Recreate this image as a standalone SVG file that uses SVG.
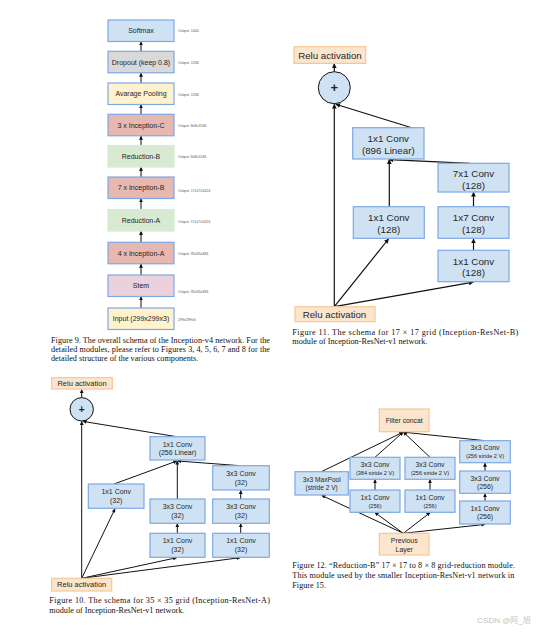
<svg xmlns="http://www.w3.org/2000/svg" width="538" height="635" viewBox="0 0 538 635">
<style>
.bg{fill:#ffffff}
.b{fill:#cfe2f3;stroke:#7ea8e4;stroke-width:1.2}
.grey{fill:#d9d9d9;stroke:#7ea8e4;stroke-width:1.2}
.yel{fill:#fff2cc;stroke:#7ea8e4;stroke-width:1.2}
.pink{fill:#e6b8af;stroke:#7ea8e4;stroke-width:1.2}
.green{fill:#d9ead3;stroke:#d9ead3;stroke-width:1.2}
.stem{fill:#ead1dc;stroke:#7ea8e4;stroke-width:1.2}
.relu{fill:#fce5cd;stroke:#f3c79a;stroke-width:1.2}
.circ{fill:#cfe2f3;stroke:#111;stroke-width:1}
.t{font-family:"Liberation Sans",Arial,sans-serif;fill:#262626;text-anchor:middle}
.o{font-family:"Liberation Sans",Arial,sans-serif;fill:#555;font-size:3.6px}
.cap{font-family:"Liberation Serif","Times New Roman",serif;fill:#111;font-size:8.2px}
.e line{stroke:#111;stroke-width:1;marker-end:url(#ah)}
.e2 line{stroke:#111;stroke-width:1.2;marker-end:url(#ah)}
</style>
<defs>
<marker id="ah" viewBox="0 0 10 10" refX="9" refY="5" markerWidth="4" markerHeight="4" orient="auto">
<path d="M0,0 L10,5 L0,10 z" fill="#111"/>
</marker>
</defs>
<rect class="bg" x="0" y="0" width="538" height="635"/>

<!-- Figure 9: Inception-v4 -->
<g id="fig9-edges" class="e">
<line x1="141" y1="51.3" x2="141" y2="41.8"/>
<line x1="141" y1="83" x2="141" y2="73.1"/>
<line x1="141" y1="114.3" x2="141" y2="104.8"/>
<line x1="141" y1="145.5" x2="141" y2="136.1"/>
<line x1="141" y1="177" x2="141" y2="167.3"/>
<line x1="141" y1="209.5" x2="141" y2="198.8"/>
<line x1="141" y1="242.3" x2="141" y2="231.3"/>
<line x1="141" y1="275" x2="141" y2="264.1"/>
<line x1="141" y1="308" x2="141" y2="296.8"/>
</g>
<g id="softmax"><rect class="b" x="108" y="20" width="66" height="21.5"/><text class="t" x="141" y="33.2" font-size="7">Softmax</text><text class="o" x="178" y="32">Output: 1000</text></g>
<g id="dropout"><rect class="grey" x="108" y="51.3" width="66" height="21.5"/><text class="t" x="141" y="64.5" font-size="7">Dropout (keep 0.8)</text><text class="o" x="178" y="63.5">Output: 1536</text></g>
<g id="avgpool"><rect class="yel" x="108" y="83" width="66" height="21.5"/><text class="t" x="141" y="96.2" font-size="7">Avarage Pooling</text><text class="o" x="178" y="95.5">Output: 1536</text></g>
<g id="incC"><rect class="pink" x="108" y="114.3" width="66" height="21.5"/><text class="t" x="141" y="127.5" font-size="7">3 x Inception-C</text><text class="o" x="178" y="126.5">Output: 8x8x1536</text></g>
<g id="redB"><rect class="green" x="108" y="145.5" width="66" height="21.5"/><text class="t" x="141" y="158.7" font-size="7">Reduction-B</text><text class="o" x="178" y="157.5">Output: 8x8x1536</text></g>
<g id="incB"><rect class="pink" x="108" y="177" width="66" height="21.5"/><text class="t" x="141" y="190.2" font-size="7">7 x Inception-B</text><text class="o" x="178" y="191.5">Output: 17x17x1024</text></g>
<g id="redA"><rect class="green" x="108" y="209.5" width="66" height="21.5"/><text class="t" x="141" y="222.7" font-size="7">Reduction-A</text><text class="o" x="178" y="222.5">Output: 17x17x1024</text></g>
<g id="incA"><rect class="pink" x="108" y="242.3" width="66" height="21.5"/><text class="t" x="141" y="255.5" font-size="7">4 x Inception-A</text><text class="o" x="178" y="254.5">Output: 35x35x384</text></g>
<g id="stem"><rect class="stem" x="108" y="275" width="66" height="21.5"/><text class="t" x="141" y="288.2" font-size="7">Stem</text><text class="o" x="178" y="292.5">Output: 35x35x384</text></g>
<g id="input"><rect class="yel" x="108" y="308" width="66" height="21.5"/><text class="t" x="141" y="321.2" font-size="7">Input (299x299x3)</text><text class="o" x="178" y="320.5">299x299x3</text></g>
<g id="cap9">
<text class="cap" x="51" y="342.6" textLength="219" lengthAdjust="spacing">Figure 9. The overall schema of the Inception-v4 network. For the</text>
<text class="cap" x="51" y="351.8" textLength="219" lengthAdjust="spacing">detailed modules, please refer to Figures 3, 4, 5, 6, 7 and 8 for the</text>
<text class="cap" x="51" y="361">detailed structure of the various components.</text>
</g>

<!-- Figure 11: Inception-ResNet-B -->
<g id="fig11-edges" class="e2">
<line x1="334.3" y1="71.7" x2="334.3" y2="63.8"/>
<line x1="411.7" y1="127.7" x2="335.8" y2="104.3"/>
<line x1="334.3" y1="306.7" x2="334.3" y2="104.3"/>
<line x1="470" y1="163.3" x2="389" y2="159.6"/>
<line x1="389.3" y1="206.7" x2="389.3" y2="159.6"/>
<line x1="334.3" y1="306.7" x2="388.5" y2="239"/>
<line x1="334.3" y1="306.7" x2="473.3" y2="282.2"/>
<line x1="473.5" y1="250.3" x2="473.5" y2="238.9"/>
<line x1="473.5" y1="206.7" x2="473.5" y2="192.3"/>
</g>
<g id="relu-b-top"><rect class="relu" x="294" y="46.7" width="71.7" height="16.7"/><text class="t" x="330" y="58.5" font-size="9.7">Relu activation</text></g>
<g id="plus-b"><circle class="circ" cx="334.3" cy="87.7" r="16"/><text class="t" x="334.3" y="92.2" font-size="13" font-weight="bold" fill="#000">+</text></g>
<g id="conv896"><rect class="b" x="352.7" y="127.7" width="71.3" height="31.3"/><text class="t" x="388.3" y="142.4" font-size="9.8">1x1 Conv</text><text class="t" x="388.3" y="153.6" font-size="9.8">(896 Linear)</text></g>
<g id="conv7x1"><rect class="b" x="438" y="163.3" width="71" height="28.7"/><text class="t" x="473.5" y="177.3" font-size="9.8">7x1 Conv</text><text class="t" x="473.5" y="188.5" font-size="9.8">(128)</text></g>
<g id="conv1x1b-left"><rect class="b" x="353.3" y="206.7" width="71" height="31.6"/><text class="t" x="388.8" y="221.3" font-size="9.8">1x1 Conv</text><text class="t" x="388.8" y="232.5" font-size="9.8">(128)</text></g>
<g id="conv1x7"><rect class="b" x="438" y="206.7" width="71" height="31.6"/><text class="t" x="473.5" y="221.3" font-size="9.8">1x7 Conv</text><text class="t" x="473.5" y="232.5" font-size="9.8">(128)</text></g>
<g id="conv1x1b-right"><rect class="b" x="438" y="250.3" width="71" height="31.4"/><text class="t" x="473.5" y="264.8" font-size="9.8">1x1 Conv</text><text class="t" x="473.5" y="276" font-size="9.8">(128)</text></g>
<g id="relu-b-bottom"><rect class="relu" x="295" y="306.7" width="80" height="15"/><text class="t" x="334.5" y="317.6" font-size="9.7">Relu activation</text></g>
<g id="cap11">
<text class="cap" x="292.3" y="334.6" textLength="226" lengthAdjust="spacing">Figure 11. The schema for 17 × 17 grid (Inception-ResNet-B)</text>
<text class="cap" x="292.3" y="344.4">module of Inception-ResNet-v1 network.</text>
</g>

<!-- Figure 10: Inception-ResNet-A -->
<g id="fig10-edges" class="e">
<line x1="81.7" y1="397.6" x2="81.7" y2="389.6"/>
<line x1="176.7" y1="436.7" x2="83" y2="421.4"/>
<line x1="81.7" y1="578.3" x2="81.7" y2="421.4"/>
<line x1="240" y1="465.7" x2="177.8" y2="461"/>
<line x1="114" y1="484" x2="176.8" y2="461"/>
<line x1="177.3" y1="499" x2="177.3" y2="461"/>
<line x1="177.3" y1="533.3" x2="177.3" y2="523.7"/>
<line x1="240.7" y1="533.3" x2="240.7" y2="523.7"/>
<line x1="240.7" y1="499" x2="240.7" y2="490.4"/>
<line x1="81.7" y1="578.3" x2="115" y2="508.8"/>
<line x1="81.7" y1="578.3" x2="176.7" y2="557.7"/>
<line x1="81.7" y1="578.3" x2="240" y2="557.7"/>
</g>
<g id="relu-a-top"><rect class="relu" x="51.7" y="377.7" width="60.6" height="11.3"/><text class="t" x="82" y="386" font-size="7.5">Relu activation</text></g>
<g id="plus-a"><circle class="circ" cx="81.7" cy="409.3" r="11.7"/><text class="t" x="81.7" y="412.8" font-size="10" font-weight="bold" fill="#000">+</text></g>
<g id="conv256lin"><rect class="b" x="150" y="436.7" width="55" height="23.3"/><text class="t" x="177.5" y="446.5" font-size="7">1x1 Conv</text><text class="t" x="177.5" y="455.2" font-size="7">(256 Linear)</text></g>
<g id="conv3x3a-top"><rect class="b" x="212.7" y="465.7" width="56.6" height="24.3"/><text class="t" x="241" y="475.8" font-size="7">3x3 Conv</text><text class="t" x="241" y="484.5" font-size="7">(32)</text></g>
<g id="conv1x1a-left"><rect class="b" x="88.3" y="484" width="55.7" height="24.3"/><text class="t" x="116.2" y="494.1" font-size="7">1x1 Conv</text><text class="t" x="116.2" y="502.8" font-size="7">(32)</text></g>
<g id="conv3x3a-mid"><rect class="b" x="150" y="499" width="55" height="24.3"/><text class="t" x="177.5" y="509.1" font-size="7">3x3 Conv</text><text class="t" x="177.5" y="517.8" font-size="7">(32)</text></g>
<g id="conv3x3a-right"><rect class="b" x="212.7" y="499" width="56.6" height="24.3"/><text class="t" x="241" y="509.1" font-size="7">3x3 Conv</text><text class="t" x="241" y="517.8" font-size="7">(32)</text></g>
<g id="conv1x1a-mid"><rect class="b" x="150" y="533.3" width="55" height="24"/><text class="t" x="177.5" y="543.3" font-size="7">1x1 Conv</text><text class="t" x="177.5" y="552" font-size="7">(32)</text></g>
<g id="conv1x1a-right"><rect class="b" x="212.7" y="533.3" width="56.6" height="24"/><text class="t" x="241" y="543.3" font-size="7">1x1 Conv</text><text class="t" x="241" y="552" font-size="7">(32)</text></g>
<g id="relu-a-bottom"><rect class="relu" x="51.7" y="578.3" width="60" height="12.7"/><text class="t" x="81.7" y="587.3" font-size="7.5">Relu activation</text></g>
<g id="cap10">
<text class="cap" x="49.3" y="603.2" textLength="220.7" lengthAdjust="spacing">Figure 10. The schema for 35 × 35 grid (Inception-ResNet-A)</text>
<text class="cap" x="49.3" y="612.6">module of Inception-ResNet-v1 network.</text>
</g>

<!-- Figure 12: Reduction-B -->
<g id="fig12-edges" class="e">
<line x1="321.7" y1="471.5" x2="403" y2="432.2"/>
<line x1="375" y1="457.3" x2="403.1" y2="432.2"/>
<line x1="430" y1="457.3" x2="403.5" y2="432.2"/>
<line x1="485" y1="440.7" x2="403.6" y2="432.2"/>
<line x1="375" y1="490" x2="375" y2="479.7"/>
<line x1="430" y1="490" x2="430" y2="479.7"/>
<line x1="485" y1="471" x2="485" y2="463.1"/>
<line x1="485" y1="501" x2="485" y2="493.7"/>
<line x1="403.3" y1="533.3" x2="321.7" y2="495.4"/>
<line x1="403.3" y1="533.3" x2="375" y2="512.7"/>
<line x1="403.3" y1="533.3" x2="430" y2="512.7"/>
<line x1="403.3" y1="533.3" x2="485" y2="524.4"/>
</g>
<g id="filterconcat"><rect class="relu" x="379.3" y="409" width="49.7" height="22.7"/><text class="t" x="404.2" y="422.7" font-size="6.8">Filter concat</text></g>
<g id="maxpool"><rect class="b" x="295" y="471.7" width="53.3" height="23.3"/><text class="t" x="321.7" y="481.5" font-size="6.6">3x3 MaxPool</text><text class="t" x="321.7" y="490" font-size="6.6">(stride 2 V)</text></g>
<g id="conv384"><rect class="b" x="350" y="457.3" width="50" height="22"/><text class="t" x="375" y="466.8" font-size="6.9">3x3 Conv</text><text class="t" x="375" y="474.9" font-size="5.6">(384 stride 2 V)</text></g>
<g id="conv256s2"><rect class="b" x="405" y="457.3" width="50" height="22"/><text class="t" x="430" y="466.8" font-size="6.9">3x3 Conv</text><text class="t" x="430" y="474.9" font-size="5.6">(256 stride 2 V)</text></g>
<g id="conv1x1r-a"><rect class="b" x="350" y="490" width="50" height="22.3"/><text class="t" x="375" y="500.4" font-size="6.9">1x1 Conv</text><text class="t" x="375" y="508.2" font-size="5.6">(256)</text></g>
<g id="conv1x1r-b"><rect class="b" x="405" y="490" width="50" height="22.3"/><text class="t" x="430" y="500.4" font-size="6.9">1x1 Conv</text><text class="t" x="430" y="508.2" font-size="5.6">(256)</text></g>
<g id="conv256s2-right"><rect class="b" x="459.7" y="440.7" width="50.6" height="22"/><text class="t" x="485" y="450.2" font-size="6.9">3x3 Conv</text><text class="t" x="485" y="458.3" font-size="5.6">(256 stride 2 V)</text></g>
<g id="conv3x3r"><rect class="b" x="459.7" y="471" width="50.6" height="22.3"/><text class="t" x="485" y="480.5" font-size="6.9">3x3 Conv</text><text class="t" x="485" y="489" font-size="6.9">(256)</text></g>
<g id="conv1x1r-c"><rect class="b" x="459.7" y="501" width="50.6" height="23"/><text class="t" x="485" y="510.6" font-size="6.9">1x1 Conv</text><text class="t" x="485" y="519.2" font-size="6.9">(256)</text></g>
<g id="prevlayer"><rect class="relu" x="379.3" y="533.3" width="49.7" height="21.7"/><text class="t" x="404.2" y="543" font-size="6.9">Previous</text><text class="t" x="404.2" y="552.3" font-size="6.9">Layer</text></g>
<g id="cap12">
<text class="cap" x="292.3" y="567.7" textLength="222.7" lengthAdjust="spacing">Figure 12. “Reduction-B” 17 × 17 to 8 × 8 grid-reduction module.</text>
<text class="cap" x="292.3" y="577.6" textLength="222" lengthAdjust="spacing">This module used by the smaller Inception-ResNet-v1 network in</text>
<text class="cap" x="292.3" y="587.5">Figure 15.</text>
</g>

<text x="504" y="623" font-family="Liberation Sans,'Noto Sans CJK SC',sans-serif" font-size="8" fill="#c4c4c4" text-anchor="middle">CSDN @阿_旭</text>
</svg>
